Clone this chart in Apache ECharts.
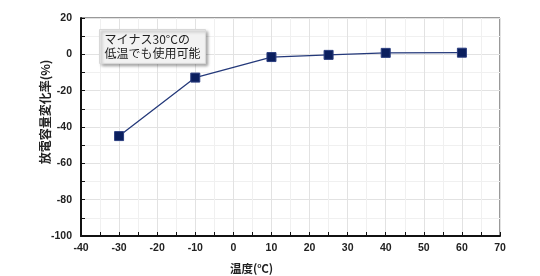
<!DOCTYPE html>
<html><head><meta charset="utf-8">
<script src="https://cdn.jsdelivr.net/npm/echarts@6/dist/echarts.min.js"></script>
<style>html,body{margin:0;padding:0;background:#fff}#c{width:540px;height:276px}</style>
</head><body><div id="c"></div>
<script>
const temps = [-30, -10, 10, 25, 40, 60];
const capacityChange = [-45, -12.8, -1.5, -0.3, 0.8, 0.9];
const xTicks = {min: -40, max: 70, interval: 10};
const yTicks = {min: -100, max: 20, interval: 20};
const xName = '温度(℃)';
const yName = '放電容量変化率(%)';
const noteLines = ['マイナス30°Cの', '低温でも使用可能'];

const chart = echarts.init(document.getElementById('c'));
const labelFont = {fontFamily: 'Liberation Sans, Arial, sans-serif', fontWeight: 'bold', fontSize: 10.5, color: '#222'};
chart.setOption({
  animation: false,
  grid: {left: 81, right: 40, top: 18, bottom: 40, outerBoundsMode: 'none', containLabel: false, show: true, borderColor: '#333', borderWidth: 1, backgroundColor: 'transparent'},
  xAxis: {
    type: 'value', min: xTicks.min, max: xTicks.max, interval: xTicks.interval,
    name: xName, nameLocation: 'middle', nameGap: 27,
    nameTextStyle: {fontFamily: 'Noto Sans CJK JP', fontWeight: 'bold', fontSize: 11.5, color: '#222', padding: [0, 78, 0, 0]},
    axisLine: {show: true, onZero: false, lineStyle: {color: '#111', width: 2}},
    axisTick: {show: true, inside: true, length: 4, lineStyle: {color: '#111'}},
    minorTick: {show: true, splitNumber: 2, length: 4, lineStyle: {color: '#111'}},
    axisLabel: Object.assign({margin: 7}, labelFont),
    splitLine: {show: true, lineStyle: {color: '#e2e2e2', width: 1}},
    minorSplitLine: {show: true, lineStyle: {color: '#f0f0f0', width: 1}}
  },
  yAxis: {
    type: 'value', min: yTicks.min, max: yTicks.max, interval: yTicks.interval,
    name: yName, nameLocation: 'middle', nameGap: 30, nameRotate: 90, nameMoveOverlap: false,
    nameTextStyle: {fontFamily: 'Noto Sans CJK JP', fontWeight: 'bold', fontSize: 12, color: '#222', padding: [0, 0, 0, 30]},
    axisLine: {show: true, onZero: false, lineStyle: {color: '#111', width: 2}},
    axisTick: {show: true, inside: true, length: 4, lineStyle: {color: '#111'}},
    minorTick: {show: true, splitNumber: 2, length: 4, lineStyle: {color: '#111'}},
    axisLabel: Object.assign({margin: 9}, labelFont),
    splitLine: {show: true, lineStyle: {color: '#e2e2e2', width: 1}},
    minorSplitLine: {show: true, lineStyle: {color: '#f0f0f0', width: 1}}
  },
  series: [{
    type: 'line',
    data: temps.map((t, i) => [t, capacityChange[i]]),
    symbol: 'rect', symbolSize: 9,
    itemStyle: {color: '#0b1f5e', borderColor: '#2c3f80', borderWidth: 1},
    lineStyle: {color: '#24397a', width: 1.3}
  }],
  graphic: [{
    type: 'group', left: 99, top: 29, z: 100,
    children: [{
      type: 'rect', z: 100, shape: {x: 0, y: 0, width: 106, height: 34},
      style: {fill: '#f2f2f2', stroke: '#d8d8d8', lineWidth: 1, shadowBlur: 3, shadowOffsetX: 2, shadowOffsetY: 2, shadowColor: 'rgba(0,0,0,0.35)'}
    }, {
      type: 'text', z: 101, x: 5, y: 3,
      style: {text: noteLines.join('\n'), fontFamily: 'Noto Sans CJK JP', fontSize: 12, fill: '#222', lineHeight: 14}
    }]
  }]
});
</script></body></html>
